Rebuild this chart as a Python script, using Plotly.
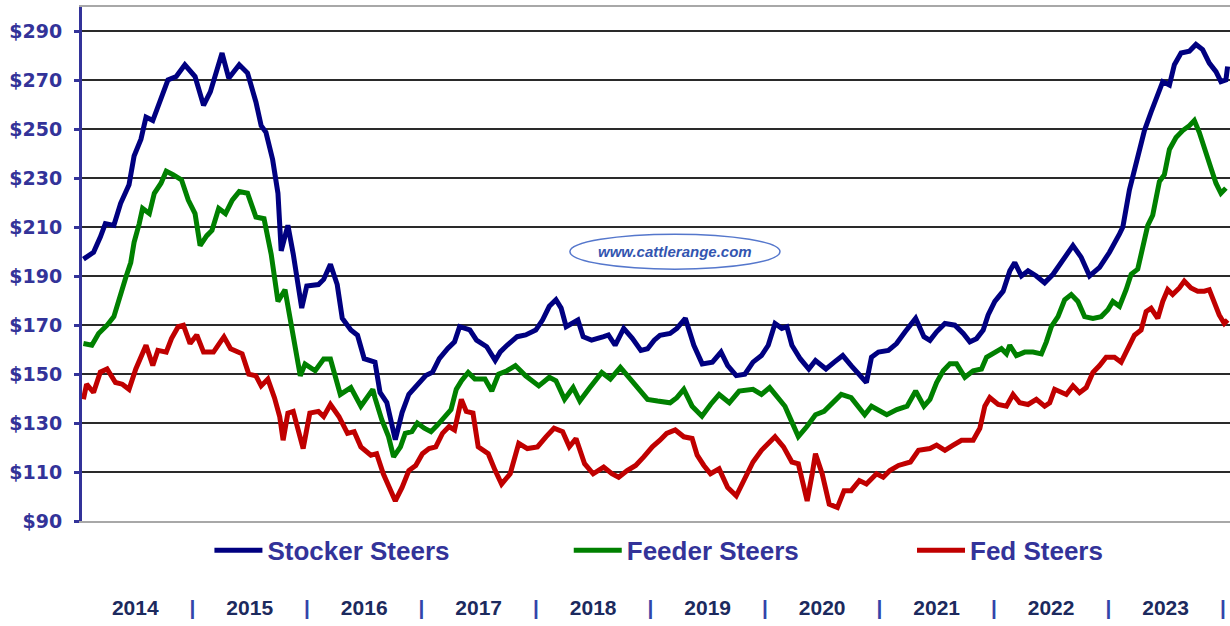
import plotly.graph_objects as go

# ---------------- data ----------------
# month index counted from Jan 1 2014 (0 = start of Jan 2014)
stocker_month = [0.57, 1.63, 2.34, 2.87, 3.76, 4.47, 5.35, 5.88, 6.6, 7.13, 7.84, 8.55, 9.43, 10.3, 11.2,
                 12.27, 13.16, 13.87, 14.4, 15.1, 15.8, 16.9, 17.77, 18.65, 19.2, 19.7, 20.4, 20.96, 21.3,
                 22.0, 22.56, 23.1, 23.45, 23.98, 25.2, 25.75, 26.46, 27.17, 27.7, 28.6, 29.3, 30.0,
                 30.6, 31.13, 31.66, 32.37, 33.26, 33.97, 34.68, 35.57, 36.45, 37.16, 37.87, 38.76, 39.47,
                 40.0, 41.07, 41.77, 42.84, 43.73, 44.26, 44.97, 46.03, 46.92, 47.98, 48.69, 49.4, 50.1,
                 50.64, 51.17, 51.88, 52.4, 52.95, 53.83, 55.1, 55.6, 56.3, 57.2, 58.1, 59.0, 59.7, 60.4,
                 61.0, 62.06, 62.77, 63.66, 64.55, 65.43, 66.5, 67.4, 68.1, 69.0, 69.9, 70.75, 71.64,
                 72.35, 73.06, 73.77, 74.3, 74.83, 75.7, 76.6, 77.3, 78.4, 79.27, 80.16, 81.04, 81.9,
                 82.64, 83.17, 83.9, 84.94, 85.8, 86.7, 87.8, 88.67, 89.3, 90.0, 90.87, 91.91, 92.79,
                 93.48, 94.18, 94.88, 95.4, 96.1, 96.97, 97.67, 98.19, 98.89, 99.58, 100.45, 101.32,
                 102.2, 103.24, 104.29, 105.16, 106.03, 107.08, 108.12, 109.17, 109.52, 110.21, 111.08,
                 111.78, 112.48, 113.35, 113.7, 114.4, 114.92, 115.62, 116.49, 117.18, 117.88, 118.58,
                 119.28, 119.8, 120.32, 120.5]
stocker_price = [197, 199.8, 206, 211.5, 210.8, 219.8, 227.4, 239.1, 246, 255, 253.6, 261.2, 270.2, 271.6, 276.4,
                 271.6, 259.8, 265.3, 272.3, 281.2, 270.9, 276.4, 273, 261.2, 251.5, 248.8, 237.7, 223.9, 200.4,
                 210.8, 199.1, 183.9, 177, 186, 186.6, 188.7, 194.9, 186.6, 172.8, 168, 165.9, 156.3,
                 155.5, 154.9, 142.5, 138.4, 123.2, 134.3, 141.8, 146, 149.4, 150.8, 156.3, 160.5, 163.2,
                 169.4, 168.1, 163.9, 161.2, 155.6, 159.1, 161.8, 165.3, 166, 168, 172.1, 177.7, 180.4,
                 177, 169.4, 170.7, 172.1, 165.3, 163.9, 165.3, 166, 161.8, 168.7, 164.6, 159.7, 160.4, 163.9,
                 165.9, 166.6, 168.7, 172.8, 161.8, 154.2, 154.9, 159, 153.5, 149.4, 150, 154.9, 157.6,
                 161.8, 170.7, 168.7, 169.4, 161.8, 156.3, 152.1, 155.6, 152.1, 154.9, 157.6, 153.5, 150,
                 146.6, 156.9, 159, 159.7, 162.5, 167.3, 172.8, 165.3, 163.8, 167.3, 170.7, 170, 166.6,
                 163.2, 164.5, 168, 174.2, 179.7, 183.9, 192.2, 195.6, 190.1, 192.2, 190.1, 187.3,
                 190.8, 196.3, 202.5, 197.7, 190.1, 193.6, 199.8, 207.3, 210.1, 225.3, 237.7,
                 249.5, 257.1, 265.4, 269.5, 268.1, 276.4, 281.2, 281.9, 284.7, 282.6, 277.1,
                 273.6, 269.5, 270.2, 275.7]

feeder_month = [0.57, 1.45, 2.16, 3.05, 3.76, 4.29, 5.0, 5.53, 5.88, 6.42, 6.77, 7.48, 8.0, 8.7, 9.25, 9.96,
                10.85, 11.56, 12.27, 12.8, 13.5, 14.04, 14.75, 15.46, 16.17, 16.9, 17.77, 18.65, 19.5,
                20.25, 20.96, 21.7, 22.38, 23.3, 23.8, 24.86, 25.75, 26.46, 27.5, 28.6, 29.65, 30.9,
                31.13, 31.84, 32.55, 33.08, 33.8, 34.3, 35.0, 35.57, 36.3, 37.0, 37.7, 38.4, 39.1, 39.65,
                40.2, 40.9, 41.6, 42.66, 43.37, 44.08, 44.97, 45.85, 46.92, 48.3, 49.4, 50.1, 51.0, 51.9,
                52.6, 53.66, 54.9, 55.8, 56.85, 57.9, 59.0, 59.7, 60.75, 62.06, 62.77, 63.5, 64.37, 65.4,
                66.3, 67.2, 68.27, 69.3, 70.75, 71.64, 72.5, 73.4, 74.1, 74.8, 75.5, 76.4, 77.3, 78.2,
                79.1, 80.0, 81.04, 81.75, 82.46, 83.17, 84.06, 84.77, 85.83, 86.9, 87.8, 88.67, 89.3,
                90.0, 90.69, 91.39, 92.09, 92.96, 93.83, 94.7, 95.23, 96.1, 96.79, 97.32, 97.67, 98.36,
                99.23, 100.1, 100.98, 101.5, 102.02, 102.72, 103.42, 104.11, 104.81, 105.51, 106.38,
                107.25, 107.95, 108.47, 109.17, 109.86, 110.39, 111.08, 111.61, 112.13, 112.65, 113.35,
                113.87, 114.4, 115.09, 115.79, 116.49, 117.01, 117.53, 118.06, 118.75, 119.28, 119.8,
                120.32]
feeder_price = [162.5, 161.8, 166.6, 170, 173.5, 181, 189.4, 195.6, 203.9, 211.5, 217.7, 215.6, 223.9, 228,
                232.9, 231.5, 229.4, 221.1, 215.6, 202.5, 206.6, 208.7, 217.7, 215.6, 221.1, 224.6, 223.9,
                214.2, 213.5, 199, 179.7, 184.5, 170, 149.3, 154.1, 151.4, 156.2, 156.2, 141.7, 144.5,
                136.9, 143.8, 140.3, 131.4, 124.5, 116.2, 120.3, 125.8, 126.5, 130, 127.9, 126.5, 129.3,
                132.7, 135.5, 143.8, 147.3, 150.7, 148, 148, 143.1, 150, 151.4, 153.5, 149.3, 145.2, 148.7,
                147.3, 139.7, 144.5, 139, 144.5, 150.7, 148, 152.8, 148, 142.5, 139.7, 139, 138.3, 140.4,
                143.8, 136.9, 132.8, 137.6, 141.7, 138.3, 143.1, 143.8, 141.7, 144.5, 140.4, 136.9, 130.7,
                124.5, 128.6, 133.4, 134.8, 138.3, 141.7, 140.4, 136.9, 133.4, 136.9, 134.8, 133.4, 135.5,
                136.9, 143.1, 136.9, 139.7, 146.6, 151.4, 154.2, 154.2, 148.7, 151.4, 152.1, 156.9, 159,
                160.4, 158.3, 161.8, 157.6, 159, 159, 158.3, 163.2, 169.4, 173.5, 180.4, 182.5, 179.7,
                173.5, 172.8, 173.5, 176.3, 179.7, 177.7, 184.5, 190.8, 192.9, 203.2, 210.8, 214.9,
                228.7, 231.5, 241.8, 246.7, 249.5, 251.5, 253.6, 248.8, 241.8, 234.2, 228, 223.9, 226]

fed_month = [0.57, 0.9, 1.63, 2.34, 3.05, 3.93, 4.64, 5.35, 6.06, 6.6, 7.13, 7.84, 8.37, 9.25, 9.8, 10.5, 11.05,
             11.75, 12.45, 13.16, 14.2, 14.93, 15.3, 16.0, 17.2, 17.9, 18.65, 19.2, 19.9, 20.6, 21.14, 21.5,
             22.0, 22.56, 23.6, 24.3, 25.2, 25.75, 26.46, 27.35, 28.25, 28.95, 29.65, 30.7, 31.3, 32.0,
             32.7, 33.26, 33.97, 34.68, 35.4, 36.1, 36.8, 37.5, 38.2, 38.9, 39.47, 40.18, 40.7, 41.4, 41.95,
             43.0, 43.73, 44.4, 45.3, 46.2, 47.1, 48.16, 49.05, 49.9, 50.8, 51.5, 52.2, 53.1, 54.0, 55.1,
             55.96, 56.67, 57.56, 58.45, 59.3, 60.2, 61.0, 61.7, 62.6, 63.5, 64.37, 64.9, 65.6, 66.3, 67.2,
             68.1, 69.0, 69.9, 70.75, 71.64, 73.06, 73.95, 74.83, 75.5, 76.43, 76.96, 77.3, 78.0, 78.74,
             79.6, 80.3, 81.04, 81.9, 82.64, 83.7, 84.4, 85.1, 86.0, 87.25, 88.1, 89.3, 90.0, 90.87, 91.74,
             92.61, 93.83, 94.53, 95.05, 95.57, 96.45, 97.32, 98.01, 98.71, 99.58, 100.45, 101.32, 101.85,
             102.37, 103.07, 103.59, 104.29, 104.98, 105.68, 106.38, 107.08, 107.77, 108.64, 109.34,
             110.04, 110.74, 111.43, 111.96, 112.48, 113.18, 113.7, 114.22, 114.74, 115.44, 115.96,
             116.66, 117.36, 118.06, 118.58, 119.1, 119.62, 120.15, 120.5]
fed_price = [139.7, 145.9, 142.5, 150.8, 152.1, 146.6, 145.9, 143.8, 152.1, 156.9, 161.8, 153.5, 159.7, 159,
             164.5, 169.4, 170, 162.5, 166, 159, 159, 163.2, 165.2, 160.4, 158.3, 150, 149.3, 145.2, 148,
             140.3, 132.7, 123, 134.1, 134.8, 119.6, 134.1, 134.8, 132.7, 137.6, 132.7, 125.8, 126.5, 120.3,
             116.9, 117.5, 109.3, 103.7, 98.2, 103.7, 110.6, 112.7, 117.5, 119.6, 120.3, 125.8, 128.6, 127.2,
             139.7, 134.8, 134.1, 120.3, 117.5, 110.6, 105.1, 109.3, 121.7, 119.6, 120.3, 124.4, 127.9,
             126.5, 120.3, 123.7, 113.4, 109.3, 112, 109.3, 107.9, 110.6, 112.7, 116.2, 120.3, 123, 125.8,
             127.2, 124.4, 123.7, 116.9, 112.7, 109.3, 111.3, 103.7, 100.3, 107.2, 114.1, 118.9, 124.4,
             120.3, 114.1, 113.4, 98.2, 109.3, 117.5, 109.3, 96.9, 95.5, 102.4, 102.4, 106.5, 105.1, 109.3,
             107.9, 110.6, 112.7, 114.1, 118.9, 119.6, 121, 118.9, 121, 123, 123, 127.9, 136.9, 140.4,
             137.6, 136.9, 141.7, 138.3, 137.6, 139.7, 136.9, 138.3, 143.8, 142.4, 141.7, 145.2, 142.4,
             144.5, 150.7, 153.5, 156.9, 156.9, 154.9, 160.4, 165.9, 168, 175.6, 176.9, 172.8, 179.7,
             184.5, 182.5, 185.2, 188, 185.2, 183.9, 183.9, 184.5, 179.7, 174.2, 170.7, 172.1]

years = [2014, 2015, 2016, 2017, 2018, 2019, 2020, 2021, 2022, 2023]
price_ticks = [90, 110, 130, 150, 170, 190, 210, 230, 250, 270, 290]

series = [
    ("Stocker Steers", stocker_month, stocker_price, "#000080", "legend"),
    ("Feeder Steers", feeder_month, feeder_price, "#008000", "legend2"),
    ("Fed Steers", fed_month, fed_price, "#C00000", "legend3"),
]

fig = go.Figure()
for name, months, prices, color, leg in series:
    fig.add_trace(go.Scatter(
        x=[years[0] + m / 12 for m in months], y=prices, mode="lines", name=name,
        line=dict(color=color, width=5), legend=leg, hoverinfo="skip"))

# x tick labels: years at mid-year, "|" separators at year boundaries
tickvals, ticktext = [], []
for yr in years:
    tickvals.append(yr + 0.5)
    ticktext.append(str(yr))
    tickvals.append(yr + 1)
    ticktext.append('<span style="color:#3344aa">|</span>')

label_blue = "#333399"
legend_font = dict(family="Liberation Sans, Arial, sans-serif", size=26, color=label_blue, weight="bold")
common_leg = dict(orientation="h", yanchor="middle", y=-0.057, xanchor="left",
                  font=legend_font, bgcolor="rgba(0,0,0,0)", borderwidth=0, itemwidth=48)

fig.update_layout(
    width=1230, height=626,
    margin=dict(l=82, r=0, t=7, b=105, autoexpand=False),
    paper_bgcolor="white", plot_bgcolor="white",
    showlegend=True,
    legend=dict(common_leg, x=0.111),
    legend2=dict(common_leg, x=0.424),
    legend3=dict(common_leg, x=0.723),
    xaxis=dict(
        range=[years[0] + 0.42 / 12, years[0] + 120.75 / 12],
        tickmode="array", tickvals=tickvals, ticktext=ticktext,
        ticks="", showgrid=False, zeroline=False, automargin=False,
        showline=True, linecolor="#a8a8a8", linewidth=2, mirror=True,
        ticklabelstandoff=67,
        tickfont=dict(family="Liberation Sans, Arial, sans-serif", size=21,
                      color="#1c2a5e", weight="bold"),
    ),
    yaxis=dict(
        range=[90, 300], automargin=False,
        tickmode="array", tickvals=price_ticks, ticktext=["$" + str(v) for v in price_ticks],
        showgrid=True, gridcolor="#2a2a2a", gridwidth=1.5, zeroline=False,
        showline=True, linecolor=label_blue, linewidth=3,
        ticks="outside", ticklen=5, tickwidth=3, tickcolor=label_blue,
        ticklabelstandoff=8,
        tickfont=dict(family="DejaVu Sans, Verdana, sans-serif", size=19, color=label_blue, weight="bold"),
    ),
    shapes=[dict(type="circle", xref="paper", yref="paper",
                 x0=0.425, x1=0.608, y0=0.49, y1=0.558,
                 line=dict(color="#5577cc", width=1.5), fillcolor="white", layer="above")],
    annotations=[dict(text="<b><i>www.cattlerange.com</i></b>", xref="paper", yref="paper",
                      x=0.5166, y=0.524, showarrow=False,
                      font=dict(family="Liberation Sans, Arial, sans-serif", size=15, color="#3355b0"))],
)

# remove the browser's default 8px page margin so the figure sits at the window's corner
fig.write_html("out.html", config={"displayModeBar": False},
               post_script="document.body.style.margin='0';")
